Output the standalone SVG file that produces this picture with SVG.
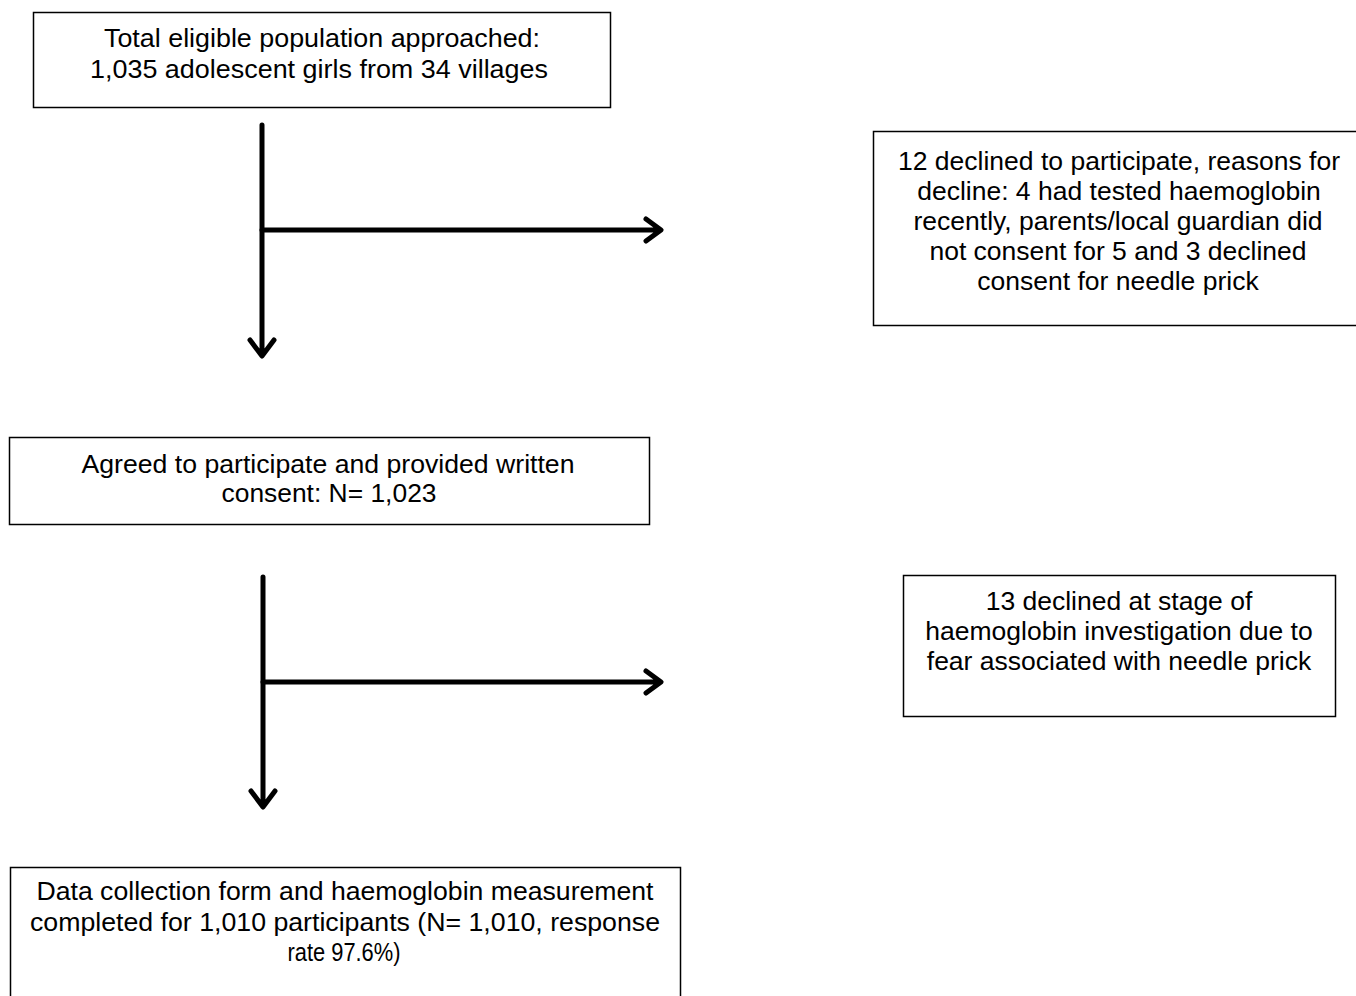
<svg xmlns="http://www.w3.org/2000/svg" width="1356" height="996" viewBox="0 0 1356 996">
<style>
.box{fill:#fff;stroke:#000;stroke-width:1.5}
.t{font-family:"Liberation Sans",Arial,sans-serif;font-size:26.5px;fill:#000;text-anchor:middle}
.ln{fill:none;stroke:#000;stroke-width:5;stroke-linecap:round;stroke-linejoin:round}
</style>
<rect width="1356" height="996" fill="#fff"/>
<g id="connectors">
<path class="ln" d="M262,125 V355 M250,340 L262,356 L274,340"/>
<path class="ln" d="M262,230 H660 M646,219 L661,230 L646,241"/>
<path class="ln" d="M263,577 V806 M251,791 L263,807 L275,791"/>
<path class="ln" d="M263,682 H660 M646,671 L661,682 L646,693"/>
</g>
<g id="n1">
<rect class="box" x="33.5" y="12.5" width="577" height="95"/>
<text class="t" x="322" y="47" textLength="436" lengthAdjust="spacingAndGlyphs">Total eligible population approached:</text>
<text class="t" x="319" y="78" textLength="458" lengthAdjust="spacingAndGlyphs">1,035 adolescent girls from 34 villages</text>
</g>
<g id="n2">
<rect class="box" x="873.5" y="131.5" width="484" height="194"/>
<text class="t" x="1119" y="170">12 declined to participate, reasons for</text>
<text class="t" x="1119" y="200">decline: 4 had tested haemoglobin</text>
<text class="t" x="1118" y="230">recently, parents/local guardian did</text>
<text class="t" x="1118" y="260">not consent for 5 and 3 declined</text>
<text class="t" x="1118" y="290">consent for needle prick</text>
</g>
<g id="n3">
<rect class="box" x="9.5" y="437.5" width="640" height="87"/>
<text class="t" x="328" y="473" textLength="493" lengthAdjust="spacingAndGlyphs">Agreed to participate and provided written</text>
<text class="t" x="329" y="502" textLength="215" lengthAdjust="spacingAndGlyphs">consent: N= 1,023</text>
</g>
<g id="n4">
<rect class="box" x="903.5" y="575.5" width="432" height="141"/>
<text class="t" x="1119" y="610">13 declined at stage of</text>
<text class="t" x="1119" y="640">haemoglobin investigation due to</text>
<text class="t" x="1119" y="670">fear associated with needle prick</text>
</g>
<g id="n5">
<rect class="box" x="10.5" y="867.5" width="670" height="140"/>
<text class="t" x="345" y="900" textLength="617" lengthAdjust="spacingAndGlyphs">Data collection form and haemoglobin measurement</text>
<text class="t" x="345" y="931" textLength="630" lengthAdjust="spacingAndGlyphs">completed for 1,010 participants (N= 1,010, response</text>
<text class="t" x="344" y="961" textLength="113" lengthAdjust="spacingAndGlyphs">rate 97.6%)</text>
</g>
</svg>
